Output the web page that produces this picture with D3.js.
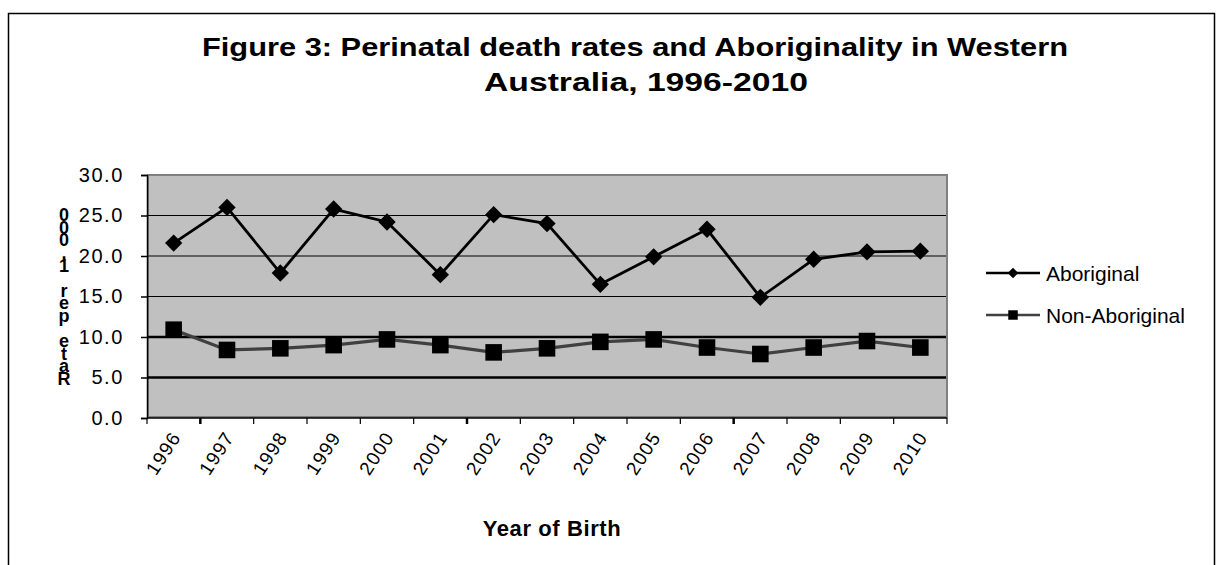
<!DOCTYPE html>
<html>
<head>
<meta charset="utf-8">
<script src="https://cdn.jsdelivr.net/npm/d3@7"></script>
<style>
  body { margin: 0; background: #fff; }
  text { font-family: Arial, "Liberation Sans", sans-serif; }
</style>
</head>
<body>
<div id="chart"></div>
<script>
// data
var years = ["1996", "1997", "1998", "1999", "2000", "2001", "2002", "2003",
             "2004", "2005", "2006", "2007", "2008", "2009", "2010"];
var aboriginal = [21.6, 26.0, 17.9, 25.8, 24.2, 17.7, 25.1, 24.0,
                  16.5, 19.9, 23.3, 14.9, 19.6, 20.5, 20.6];
var nonAboriginal = [10.9, 8.4, 8.6, 9.0, 9.7, 9.0, 8.1, 8.6,
                     9.4, 9.7, 8.7, 7.9, 8.7, 9.5, 8.7];
var yTicks = [0, 5, 10, 15, 20, 25, 30];
var seriesNames = ["Aboriginal", "Non-Aboriginal"];

var W = 1216, H = 565;
var margin = { top: 175, left: 147, right: 269, bottom: 147 };
var width = W - margin.left - margin.right,
    height = H - margin.top - margin.bottom;

var svg = d3.select("#chart").append("svg")
  .attr("width", W)
  .attr("height", H);

// outer frame
svg.append("rect")
  .attr("x", 8.5).attr("y", 13.5)
  .attr("width", 1206).attr("height", 600)
  .attr("fill", "none").attr("stroke", "#000").attr("stroke-width", 1.5);

// title
var title = svg.append("text")
  .attr("font-weight", "bold").attr("font-size", 25)
  .attr("text-anchor", "middle");
title.append("tspan").attr("x", 635).attr("y", 56)
  .attr("textLength", 866).attr("lengthAdjust", "spacingAndGlyphs")
  .text("Figure 3: Perinatal death rates and Aboriginality in Western");
title.append("tspan").attr("x", 646).attr("y", 91)
  .attr("textLength", 324).attr("lengthAdjust", "spacingAndGlyphs")
  .text("Australia, 1996-2010");

var g = svg.append("g")
  .attr("transform", "translate(" + margin.left + "," + margin.top + ")");

var x = d3.scaleBand().domain(years).range([0, width]);
var y = d3.scaleLinear().domain([0, 30]).range([height, 0]);

// plot background
g.append("rect")
  .attr("x", 1).attr("y", 0)
  .attr("width", width - 1).attr("height", height - 1)
  .attr("fill", "#c0c0c0").attr("stroke", "#808080").attr("stroke-width", 2);

// gridlines (10 and 5 are drawn heavier in the original)
g.selectAll(".grid").data(yTicks.filter(function (d) { return d > 0 && d < 30; }))
  .enter().append("line")
  .attr("class", "grid")
  .attr("x1", 1).attr("x2", width - 1)
  .attr("y1", function (d) { return y(d); })
  .attr("y2", function (d) { return y(d); })
  .attr("stroke", "#000")
  .attr("stroke-width", function (d) { return d <= 10 ? 2.6 : 1; });

// y axis
var yAxis = d3.axisLeft(y).tickValues(yTicks).tickFormat(d3.format(".1f")).tickSize(6).tickPadding(17);
var yg = g.append("g").call(yAxis);
yg.select(".domain").attr("stroke", "#000").attr("stroke-width", 1.5);
yg.selectAll(".tick line").attr("stroke-width", 1.5);
yg.selectAll(".tick text")
  .attr("font-size", 20).attr("fill", "#000").attr("letter-spacing", "1.6px")
  .attr("font-family", "Arial, 'Liberation Sans', sans-serif");

// x axis: ticks on band edges, labels rotated
var edges = years.map(function (d) { return x(d); }).concat([width]);
var xg = g.append("g").attr("transform", "translate(0," + height + ")");
xg.append("line").attr("x1", 0).attr("x2", width)
  .attr("stroke", "#000").attr("stroke-width", 1.5);
xg.selectAll(".xt").data(edges).enter().append("line")
  .attr("x1", function (d) { return d; }).attr("x2", function (d) { return d; })
  .attr("y1", 0).attr("y2", 6)
  .attr("stroke", "#000")
  .attr("stroke-width", function (d, i) { return i % 5 === 1 ? 2.5 : 1.2; });
xg.selectAll(".xl").data(years).enter().append("text")
  .attr("transform", function (d) {
    return "translate(" + (x(d) + x.bandwidth() / 2 + 8) + ",19) rotate(-57)";
  })
  .attr("text-anchor", "end")
  .attr("font-size", 19)
  .attr("letter-spacing", "1.2px")
  .text(function (d) { return d; });

// axis titles
svg.append("text")
  .attr("x", 552).attr("y", 536)
  .attr("text-anchor", "middle")
  .attr("font-weight", "bold").attr("font-size", 22)
  .attr("letter-spacing", "0.6px")
  .text("Year of Birth");

// y title: upright letters stacked bottom-to-top, as in the original
var yTitle = "Rate per 1,000".split("");
svg.append("text")
  .attr("x", yTitle.map(function () { return 64; }).join(" "))
  .attr("y", yTitle.map(function (d, i) { return 385 - i * 12.6; }).join(" "))
  .attr("text-anchor", "middle")
  .attr("font-weight", "bold").attr("font-size", 18)
  .text(yTitle.join(""));

// lines
var cx = function (d, i) { return x(years[i]) + x.bandwidth() / 2; };
var line = d3.line().x(cx).y(function (d) { return y(d); });

g.append("path").datum(nonAboriginal)
  .attr("d", line).attr("fill", "none")
  .attr("stroke", "#404040").attr("stroke-width", 3.2);
g.append("path").datum(aboriginal)
  .attr("d", line).attr("fill", "none")
  .attr("stroke", "#000").attr("stroke-width", 2.8);

var diamond = d3.symbol().type(d3.symbolSquare).size(150);
var square = d3.symbol().type(d3.symbolSquare).size(275);

g.selectAll(".sq").data(nonAboriginal).enter().append("path")
  .attr("d", square)
  .attr("transform", function (d, i) { return "translate(" + cx(d, i) + "," + y(d) + ")"; })
  .attr("fill", "#000");
g.selectAll(".dm").data(aboriginal).enter().append("path")
  .attr("d", diamond)
  .attr("transform", function (d, i) { return "translate(" + cx(d, i) + "," + y(d) + ") rotate(45)"; })
  .attr("fill", "#000");

// legend
var legend = svg.append("g").attr("transform", "translate(986,273)");
var legItems = legend.selectAll("g").data(seriesNames).enter().append("g")
  .attr("transform", function (d, i) { return "translate(0," + i * 42 + ")"; });
legItems.append("line")
  .attr("x1", 0).attr("x2", 54)
  .attr("stroke", function (d, i) { return i === 0 ? "#000" : "#404040"; })
  .attr("stroke-width", 2.5);
legItems.append("path")
  .attr("transform", function (d, i) { return i === 0 ? "translate(27,0) rotate(45)" : "translate(27,0)"; })
  .attr("d", function (d, i) {
    return d3.symbol().type(d3.symbolSquare).size(i === 0 ? 55 : 90)();
  })
  .attr("fill", "#000");
legItems.append("text")
  .attr("x", 60).attr("y", 8)
  .attr("font-size", 21)
  .text(function (d) { return d; });
</script>
</body>
</html>
